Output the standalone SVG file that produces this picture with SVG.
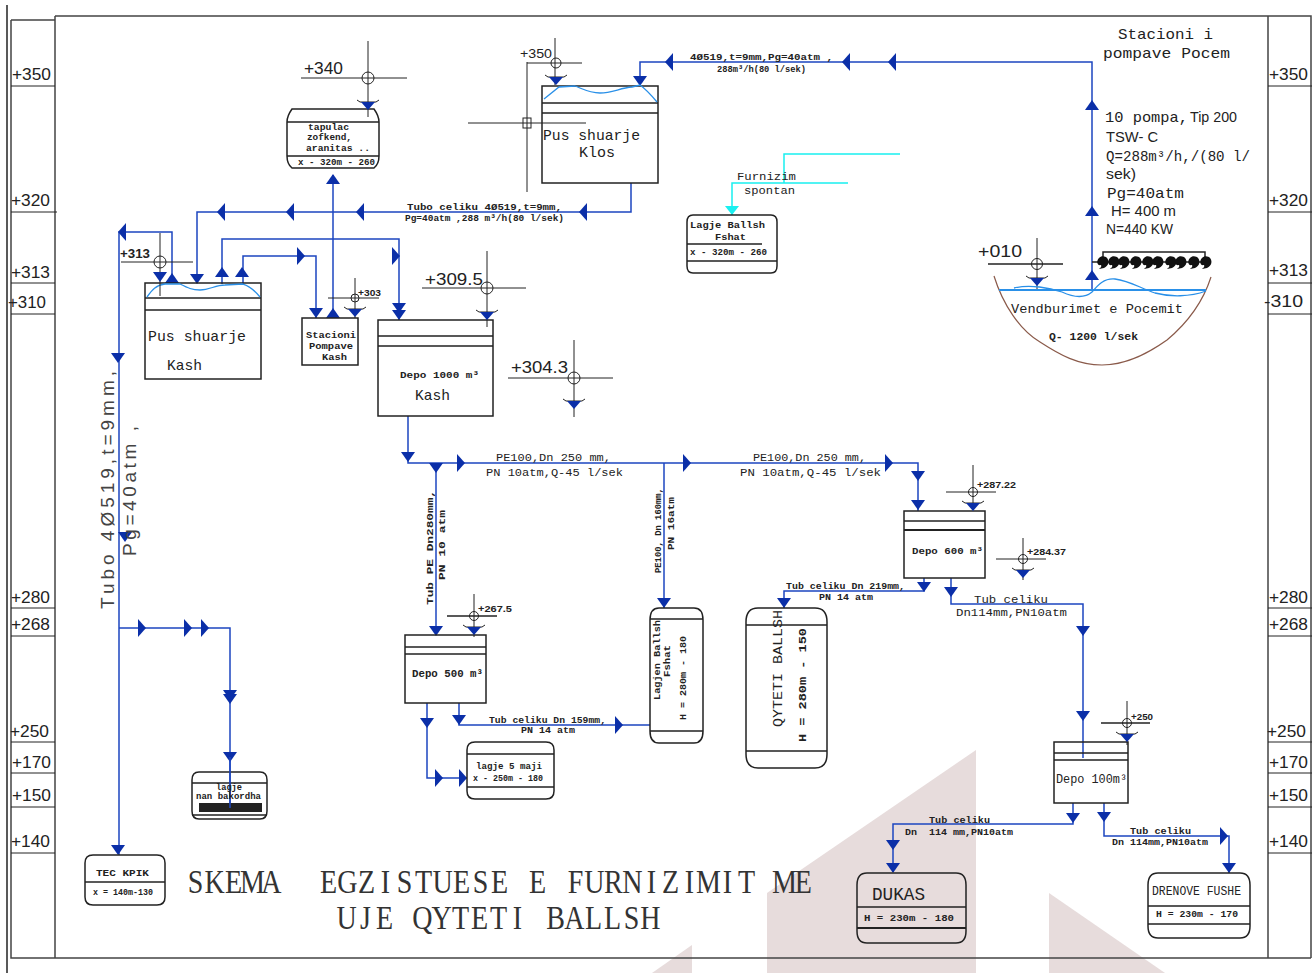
<svg xmlns="http://www.w3.org/2000/svg" width="1315" height="973" viewBox="0 0 1315 973">
<style>
text{fill:#222;white-space:pre}
.m{font-family:"Liberation Mono","DejaVu Sans Mono",monospace}
.t{font-family:"Liberation Serif","DejaVu Serif",serif;font-size:33px;text-anchor:middle;fill:#333}
.s{font-family:"Liberation Sans",Arial,sans-serif}
.b{font-weight:700}
.sc{font-family:"Liberation Sans",Arial,sans-serif;font-size:17px;fill:#333}
.box{fill:none;stroke:#222;stroke-width:1.5}
.ln{fill:none;stroke:#222;stroke-width:1.5}
.thin{fill:none;stroke:#222;stroke-width:1}
.frame{fill:none;stroke:#444;stroke-width:1.5}
.p{fill:none;stroke:#1d46c0;stroke-width:1.5}
.c{fill:none;stroke:#19f0f0;stroke-width:1.5}
.w{fill:none;stroke:#2a90e8;stroke-width:1.3}
.a{fill:#0b2fa8}
</style>
<defs>
<path id="ad" d="M-7,-5H7L0,5Z"/>
<path id="au" d="M-7,5H7L0,-5Z"/>
<path id="al" d="M4,-9V9L-4,0Z"/>
<path id="ar" d="M-4,-9V9L4,0Z"/>
<g id="lv"><path d="M-11,-5L-8,-3H8L11,-5" fill="none" stroke="#222" stroke-width="1"/><path d="M-7,-3H7L0,5Z" fill="#0b2fa8"/></g>
<path id="pm" d="M-4,-1C-7,2-6,7-2,6C-1,8-3,9-4,10L1,9C6,7 7,1 3,-2C0,-3-2,-3-4,-1Z" fill="#111"/>
</defs>

<g id="watermark" fill="#e7dcdc">
<path d="M976,750L767,893V973H976Z"/>
<path d="M1049,893L1165,973H1049Z"/>
<path d="M692,945L652,973H692Z"/>
</g>

<g id="frame">
<path class="ln" d="M7,5V973"/>
<path class="frame" d="M11,20V958H1311"/>
<path class="frame" d="M11,20H55M55,16H1311V958"/>
<path class="frame" d="M55,16V958M1268,16V958"/>
<path class="thin" d="M11,86H55M11,212H57M11,283H55M11,314H55M11,608H55M11,636H55M11,742H55M11,773H55M11,807H55M11,853H55"/>
<path class="thin" d="M1268,86H1312M1268,212H1312M1268,283H1312M1268,314H1312M1268,608H1312M1268,636H1312M1268,742H1312M1268,773H1312M1268,807H1312M1268,853H1312"/>
<g class="sc">
<text x="12" y="80" textLength="39" lengthAdjust="spacingAndGlyphs">+350</text>
<text x="11" y="206" textLength="39" lengthAdjust="spacingAndGlyphs">+320</text>
<text x="11" y="278" textLength="39" lengthAdjust="spacingAndGlyphs">+313</text>
<text x="8" y="308" textLength="38" lengthAdjust="spacingAndGlyphs">+310</text>
<text x="11" y="603" textLength="39" lengthAdjust="spacingAndGlyphs">+280</text>
<text x="11" y="630" textLength="39" lengthAdjust="spacingAndGlyphs">+268</text>
<text x="10" y="737" textLength="39" lengthAdjust="spacingAndGlyphs">+250</text>
<text x="12" y="768" textLength="39" lengthAdjust="spacingAndGlyphs">+170</text>
<text x="12" y="801" textLength="39" lengthAdjust="spacingAndGlyphs">+150</text>
<text x="11" y="847" textLength="39" lengthAdjust="spacingAndGlyphs">+140</text>
<text x="1269" y="80" textLength="39" lengthAdjust="spacingAndGlyphs">+350</text>
<text x="1269" y="206" textLength="39" lengthAdjust="spacingAndGlyphs">+320</text>
<text x="1269" y="276" textLength="39" lengthAdjust="spacingAndGlyphs">+313</text>
<text x="1264" y="307" textLength="39" lengthAdjust="spacingAndGlyphs">-310</text>
<text x="1269" y="603" textLength="39" lengthAdjust="spacingAndGlyphs">+280</text>
<text x="1269" y="630" textLength="39" lengthAdjust="spacingAndGlyphs">+268</text>
<text x="1267" y="737" textLength="39" lengthAdjust="spacingAndGlyphs">+250</text>
<text x="1269" y="768" textLength="39" lengthAdjust="spacingAndGlyphs">+170</text>
<text x="1269" y="801" textLength="39" lengthAdjust="spacingAndGlyphs">+150</text>
<text x="1269" y="847" textLength="39" lengthAdjust="spacingAndGlyphs">+140</text>
</g>
</g>

<g id="connectors">
<path class="p" d="M1092,290V62H640V85"/>
<path class="p" d="M631,183V212H197V283"/>
<path class="p" d="M333,318V175"/>
<path class="p" d="M119,855V232H172V283"/>
<path class="p" d="M119,628H230V808"/>
<path class="p" d="M222,284V239H399V320"/>
<path class="p" d="M243,284V256H316V318"/>
<path class="p" d="M408,416V463H918V511"/>
<path class="p" d="M436,463V635"/>
<path class="p" d="M664,463V608"/>
<path class="p" d="M427,703V778H467"/>
<path class="p" d="M459,703V725H650"/>
<path class="p" d="M924,578V591H784V608"/>
<path class="p" d="M951,578V604H1083V758"/>
<path class="p" d="M1073,803V824H893V872"/>
<path class="p" d="M1104,803V836H1229V873"/>
<path class="c" d="M900,154H784V183M848,183H732V215"/>
<g class="a">
<use href="#au" x="1092" y="105"/><use href="#au" x="1092" y="211"/><use href="#au" x="1092" y="275"/>
<use href="#al" x="669" y="62"/><use href="#al" x="846" y="62"/><use href="#al" x="892" y="62"/>
<use href="#ad" x="640" y="81"/>
<use href="#al" x="583" y="212"/><use href="#al" x="360" y="212"/><use href="#al" x="290" y="212"/><use href="#al" x="221" y="212"/>
<use href="#ad" x="197" y="279"/>
<use href="#au" x="333" y="179"/><use href="#au" x="333" y="313"/>
<use href="#al" x="122" y="232"/><use href="#au" x="172" y="278"/>
<use href="#ad" x="118" y="358"/><use href="#ad" x="125" y="537"/><use href="#ad" x="118" y="850"/>
<use href="#ar" x="142" y="628"/><use href="#ar" x="188" y="628"/><use href="#ar" x="205" y="628"/>
<use href="#ad" x="230" y="695"/><use href="#ad" x="230" y="699"/><use href="#ad" x="230" y="757"/>
<use href="#au" x="222" y="272"/><use href="#au" x="242" y="272"/>
<use href="#ar" x="396" y="256"/><use href="#ar" x="301" y="256"/>
<use href="#ad" x="399" y="308"/><use href="#ad" x="399" y="315"/><use href="#ad" x="316" y="313"/>
<use href="#ad" x="408" y="457"/><use href="#ad" x="436" y="468"/><use href="#ad" x="436" y="631"/>
<use href="#ar" x="461" y="463"/><use href="#ar" x="687" y="463"/><use href="#ar" x="889" y="463"/>
<use href="#ad" x="918" y="476"/><use href="#ad" x="918" y="505"/><use href="#ad" x="664" y="603"/>
<use href="#ad" x="427" y="723"/><use href="#ar" x="439" y="778"/><use href="#ar" x="463" y="778"/>
<use href="#ad" x="459" y="720"/><use href="#ar" x="619" y="725"/>
<use href="#ad" x="924" y="587"/><use href="#ad" x="784" y="603"/>
<use href="#ad" x="951" y="592"/><use href="#ad" x="1083" y="631"/><use href="#ad" x="1083" y="716"/>
<use href="#ad" x="1073" y="818"/><use href="#ad" x="893" y="845"/><use href="#ad" x="893" y="868"/>
<use href="#ad" x="1104" y="817"/><use href="#ad" x="1229" y="868"/><use href="#ar" x="1224" y="836"/>
</g>
<path d="M725,206H739L732,215Z" fill="#19f0f0"/>
</g>

<g id="pipe-labels" class="m b" font-size="9">
<text x="690" y="60" textLength="143" lengthAdjust="spacingAndGlyphs">4Ø519,t=9mm,Pg=40atm ,</text>
<text x="717" y="72" textLength="89" lengthAdjust="spacingAndGlyphs">288m³/h(80 l/sek)</text>
<text x="407" y="210" textLength="155" lengthAdjust="spacingAndGlyphs">Tubo celiku 4Ø519,t=9mm,</text>
<text x="405" y="221" textLength="159" lengthAdjust="spacingAndGlyphs">Pg=40atm ,288 m³/h(80 l/sek)</text>
<g font-size="11" font-weight="400">
<text x="496" y="461" textLength="115" lengthAdjust="spacingAndGlyphs">PE100,Dn 250 mm,</text>
<text x="486" y="476" textLength="137" lengthAdjust="spacingAndGlyphs">PN 10atm,Q-45 l/sek</text>
<text x="753" y="461" textLength="113" lengthAdjust="spacingAndGlyphs">PE100,Dn 250 mm,</text>
<text x="740" y="476" textLength="141" lengthAdjust="spacingAndGlyphs">PN 10atm,Q-45 l/sek</text>
</g>
<text transform="translate(433,605) rotate(-90)" textLength="115" lengthAdjust="spacingAndGlyphs">Tub PE Dn280mm,</text>
<text transform="translate(445,580) rotate(-90)" textLength="70" lengthAdjust="spacingAndGlyphs">PN 10 atm</text>
<text transform="translate(661,573) rotate(-90)" textLength="85" lengthAdjust="spacingAndGlyphs">PE100, Dn 160mm,</text>
<text transform="translate(674,550) rotate(-90)" textLength="53" lengthAdjust="spacingAndGlyphs">PN 16atm</text>
<text x="786" y="589" textLength="119" lengthAdjust="spacingAndGlyphs">Tub celiku Dn 219mm,</text>
<text x="819" y="600" textLength="54" lengthAdjust="spacingAndGlyphs">PN 14 atm</text>
<g font-size="11" font-weight="400">
<text x="974" y="603" textLength="74" lengthAdjust="spacingAndGlyphs">Tub celiku</text>
<text x="956" y="616" textLength="111" lengthAdjust="spacingAndGlyphs">Dn114mm,PN10atm</text>
</g>
<text x="489" y="723" textLength="117" lengthAdjust="spacingAndGlyphs">Tub celiku Dn 159mm,</text>
<text x="521" y="733" textLength="54" lengthAdjust="spacingAndGlyphs">PN 14 atm</text>
<text x="929" y="823" textLength="61" lengthAdjust="spacingAndGlyphs">Tub celiku</text>
<text x="905" y="835" textLength="108" lengthAdjust="spacingAndGlyphs">Dn  114 mm,PN10atm</text>
<text x="1130" y="834" textLength="61" lengthAdjust="spacingAndGlyphs">Tub celiku</text>
<text x="1112" y="845" textLength="96" lengthAdjust="spacingAndGlyphs">Dn 114mm,PN10atm</text>
<g font-size="11" font-weight="400">
<text x="737" y="180" textLength="59" lengthAdjust="spacingAndGlyphs">Furnizim</text>
<text x="744" y="194" textLength="51" lengthAdjust="spacingAndGlyphs">spontan</text>
</g>
</g>

<g id="main-tube-label" class="s">
<text transform="translate(114,609) rotate(-90)" font-size="19" textLength="238" lengthAdjust="spacing" style="fill:#444">Tubo 4Ø519,t=9mm,</text>
<text transform="translate(136,556) rotate(-90)" font-size="19" textLength="130" lengthAdjust="spacing" style="fill:#444">Pg=40atm ,</text>
</g>

<g id="tapulac">
<path class="box" d="M292,109H374Q379,116 379,122V156Q379,164 374,168H292Q287,164 287,156V122Q287,116 292,109Z"/>
<path class="ln" d="M287,122H379M287,156H379"/>
<g class="m b" font-size="8.500">
<text x="308" y="130" textLength="41" lengthAdjust="spacingAndGlyphs">tapulac</text>
<text x="307" y="140" textLength="45" lengthAdjust="spacingAndGlyphs">zofkend,</text>
<text x="306" y="151" textLength="64" lengthAdjust="spacingAndGlyphs">aranitas ..</text>
<text x="298" y="165" textLength="77" lengthAdjust="spacingAndGlyphs">x - 320m - 260</text>
</g>
</g>

<g id="lagje-ballsh-fshat">
<path class="box" d="M693,215H771Q777,215 777,222V266Q777,273 771,273H693Q687,273 687,266V222Q687,215 693,215Z"/>
<path class="ln" d="M687,244H762M687,261H777"/>
<g class="m b" font-size="8.500">
<text x="690" y="228" textLength="75" lengthAdjust="spacingAndGlyphs">Lagje Ballsh</text>
<text x="715" y="240" textLength="31" lengthAdjust="spacingAndGlyphs">Fshat</text>
<text x="690" y="255" textLength="77" lengthAdjust="spacingAndGlyphs">x - 320m - 260</text>
</g>
</g>

<g id="pus-klos">
<rect class="box" x="542" y="86" width="116" height="97"/>
<path class="ln" d="M542,103H658M542,113H658"/>
<path class="w" d="M544,99L559,87L575,86C585,90 590,93 600,93C612,93 620,88 632,87L640,85C647,90 652,96 657,102"/>
<g class="m" font-size="15">
<text x="543" y="140" textLength="97" lengthAdjust="spacingAndGlyphs">Pus shuarje</text>
<text x="579" y="157" textLength="36" lengthAdjust="spacingAndGlyphs">Klos</text>
</g>
</g>

<g id="pus-kash">
<rect class="box" x="145" y="283" width="116" height="96"/>
<path class="ln" d="M145,298H261M145,310H261"/>
<path class="w" d="M147,297C152,290 156,285 165,284H180C188,288 192,290 200,290C210,290 215,285 225,285L243,284C250,286 256,292 260,297"/>
<g class="m" font-size="15">
<text x="148" y="341" textLength="98" lengthAdjust="spacingAndGlyphs">Pus shuarje</text>
<text x="167" y="370" textLength="35" lengthAdjust="spacingAndGlyphs">Kash</text>
</g>
</g>

<g id="stacioni-kash">
<rect class="box" x="302" y="318" width="56" height="47"/>
<g class="m b" font-size="8.500">
<text x="306" y="338" textLength="50" lengthAdjust="spacingAndGlyphs">Stacioni</text>
<text x="309" y="349" textLength="44" lengthAdjust="spacingAndGlyphs">Pompave</text>
<text x="322" y="360" textLength="25" lengthAdjust="spacingAndGlyphs">Kash</text>
</g>
</g>

<g id="depo-1000">
<rect class="box" x="378" y="320" width="115" height="96"/>
<path class="ln" d="M378,336H493M378,346H493"/>
<text class="m b" x="400" y="378" font-size="9" textLength="79" lengthAdjust="spacingAndGlyphs">Depo 1000 m³</text>
<text class="m" x="415" y="400" font-size="15" textLength="35" lengthAdjust="spacingAndGlyphs">Kash</text>
</g>

<g id="depo-500">
<rect class="box" x="405" y="635" width="81" height="68"/>
<path class="ln" d="M405,647H486M405,654H486"/>
<text class="m" x="412" y="677" font-size="11" font-weight="700" textLength="71" lengthAdjust="spacingAndGlyphs">Depo 500 m³</text>
</g>

<g id="depo-600">
<rect class="box" x="904" y="511" width="81" height="67"/>
<path class="ln" d="M904,521H985"/><path class="ln" style="stroke-width:2.2" d="M904,530H985"/>
<text class="m b" x="912" y="554" font-size="9" textLength="71" lengthAdjust="spacingAndGlyphs">Depo 600 m³</text>
</g>

<g id="depo-100">
<rect class="box" x="1054" y="742" width="74" height="61"/>
<path class="ln" d="M1054,753H1128M1054,760H1128"/>
<text class="m" x="1056" y="783" font-size="13" textLength="71" lengthAdjust="spacingAndGlyphs">Depo 100m³</text>
</g>

<g id="lagje-fshat-v">
<path class="box" d="M659,608H694Q703,608 703,620V731Q703,743 694,743H659Q650,743 650,731V620Q650,608 659,608Z"/>
<path class="ln" d="M650,619H703M650,731H703"/>
<g class="m b" font-size="8.500">
<text transform="translate(660,700) rotate(-90)" textLength="80" lengthAdjust="spacingAndGlyphs">Lagjen Ballsh</text>
<text transform="translate(670,677) rotate(-90)" textLength="32" lengthAdjust="spacingAndGlyphs">Fshat</text>
<text transform="translate(686,720) rotate(-90)" textLength="84" lengthAdjust="spacingAndGlyphs">H = 280m - 180</text>
</g>
</g>

<g id="qyteti-ballsh">
<path class="box" d="M758,608H815Q827,608 827,622V754Q827,768 815,768H758Q746,768 746,754V622Q746,608 758,608Z"/>
<path class="ln" d="M746,625H827M746,751H827"/>
<text class="m" transform="translate(782,727) rotate(-90)" font-size="13" textLength="117" lengthAdjust="spacingAndGlyphs">QYTETI BALLSH</text>
<text class="m b" transform="translate(806,742) rotate(-90)" font-size="10" textLength="114" lengthAdjust="spacingAndGlyphs">H = 280m - 150</text>
</g>

<g id="tec-kpik">
<path class="box" d="M93,855H157Q165,855 165,863V897Q165,905 157,905H93Q85,905 85,897V863Q85,855 93,855Z"/>
<path class="ln" d="M85,882H165"/>
<g class="m b" font-size="8.500">
<text x="96" y="876" textLength="53" lengthAdjust="spacingAndGlyphs">TEC KPIK</text>
<text x="93" y="895" textLength="60" lengthAdjust="spacingAndGlyphs">x = 140m-130</text>
</g>
</g>

<g id="lagje-nan-bakordha">
<path class="box" d="M199,772H260Q267,772 267,780V811Q267,819 260,819H199Q192,819 192,811V780Q192,772 199,772Z"/>
<path class="ln" d="M192,783H267M192,815H267"/>
<rect x="199" y="803" width="63" height="9" fill="#222"/>
<path class="p" d="M230,757V808"/>
<g class="m b" font-size="8.500">
<text x="216" y="790" textLength="26" lengthAdjust="spacingAndGlyphs">lagje</text>
<text x="196" y="799" textLength="65" lengthAdjust="spacingAndGlyphs">nan bakordha</text>
</g>
</g>

<g id="lagje-5-maji">
<path class="box" d="M475,742H546Q554,742 554,750V791Q554,799 546,799H475Q467,799 467,791V750Q467,742 475,742Z"/>
<path class="ln" d="M467,754H554M467,787H554"/>
<g class="m b" font-size="8.500">
<text x="476" y="769" textLength="66" lengthAdjust="spacingAndGlyphs">lagje 5 maji</text>
<text x="473" y="781" textLength="70" lengthAdjust="spacingAndGlyphs">x - 250m - 180</text>
</g>
</g>

<g id="dukas">
<path class="box" d="M867,873H956Q966,873 966,885V931Q966,943 956,943H867Q857,943 857,931V885Q857,873 867,873Z"/>
<path class="ln" d="M857,907H966"/><path class="ln" style="stroke-width:2" d="M857,928H966"/>
<text class="m" x="872" y="900" font-size="18" textLength="53" lengthAdjust="spacingAndGlyphs">DUKAS</text>
<text class="m b" x="864" y="921" font-size="9" textLength="90" lengthAdjust="spacingAndGlyphs">H = 230m - 180</text>
</g>

<g id="drenove-fushe">
<path class="box" d="M1158,873H1240Q1250,873 1250,885V926Q1250,938 1240,938H1158Q1148,938 1148,926V885Q1148,873 1158,873Z"/>
<path class="ln" d="M1148,906H1250M1148,924H1250"/>
<text class="m" x="1152" y="895" font-size="12" textLength="89" lengthAdjust="spacingAndGlyphs">DRENOVE FUSHE</text>
<text class="m b" x="1156" y="917" font-size="9" textLength="82" lengthAdjust="spacingAndGlyphs">H = 230m - 170</text>
</g>

<g id="level-340"><path class="thin" d="M301,78H407M368,41V117"/><circle class="thin" cx="368" cy="78" r="6"/><use href="#lv" x="368" y="105"/>
<text class="s" x="304" y="74" font-size="16" textLength="39" lengthAdjust="spacingAndGlyphs">+340</text></g>
<g id="level-350"><path class="thin" d="M527,63H582M555,38V85"/><circle class="thin" cx="556" cy="63" r="5"/><use href="#lv" x="556" y="80"/>
<text class="s" x="520" y="58" font-size="13" textLength="32" lengthAdjust="spacingAndGlyphs">+350</text></g>
<g id="cross-klos"><path class="thin" d="M468,123H586M527,62V192"/><rect class="thin" x="523" y="118" width="8" height="10"/></g>
<g id="level-313"><path class="thin" d="M121,262H193M160,233V296"/><circle class="thin" cx="160" cy="262" r="6"/><use href="#ad" x="160" y="277" class="a"/>
<text class="s" x="120" y="258" font-size="12" font-weight="700" textLength="30" lengthAdjust="spacingAndGlyphs">+313</text></g>
<g id="level-303"><path class="thin" d="M328,298H379M355,278V318"/><circle class="thin" cx="355" cy="298" r="4"/><use href="#lv" x="355" y="312"/>
<text class="s" x="358" y="296" font-size="9" font-weight="700" textLength="23" lengthAdjust="spacingAndGlyphs">+303</text></g>
<g id="level-3095"><path class="thin" d="M422,288H526M487,251V327"/><circle class="thin" cx="487" cy="288" r="6"/><use href="#lv" x="487" y="315"/>
<text class="s" x="425" y="285" font-size="16" textLength="58" lengthAdjust="spacingAndGlyphs">+309.5</text></g>
<g id="level-3043"><path class="thin" d="M508,378H613M574,340V417"/><circle class="thin" cx="574" cy="378" r="6"/><use href="#lv" x="574" y="404"/>
<text class="s" x="511" y="373" font-size="16" textLength="57" lengthAdjust="spacingAndGlyphs">+304.3</text></g>
<g id="level-010"><path class="ln" d="M988,264H1063"/><path class="thin" d="M1037,238V290"/><circle class="thin" cx="1037" cy="264" r="5.500"/><use href="#lv" x="1037" y="281"/>
<text class="s" x="978" y="257" font-size="17" textLength="44" lengthAdjust="spacingAndGlyphs">+010</text></g>
<g id="level-2675"><path class="ln" d="M447,616H497"/><path class="thin" d="M474,594V637"/><circle class="thin" cx="474" cy="616" r="4.500"/><use href="#lv" x="474" y="630"/>
<text class="s" x="478" y="612" font-size="9" font-weight="700" textLength="34" lengthAdjust="spacingAndGlyphs">+267.5</text></g>
<g id="level-28722"><path class="thin" d="M946,492H996M973,465V510"/><circle class="thin" cx="973" cy="492" r="4.500"/><use href="#lv" x="973" y="506"/>
<text class="s" x="977" y="488" font-size="9" font-weight="700" textLength="39" lengthAdjust="spacingAndGlyphs">+287.22</text></g>
<g id="level-28437"><path class="thin" d="M996,559H1046M1023,538V580"/><circle class="thin" cx="1023" cy="559" r="4.500"/><use href="#lv" x="1023" y="573"/>
<text class="s" x="1027" y="555" font-size="9" font-weight="700" textLength="39" lengthAdjust="spacingAndGlyphs">+284.37</text></g>
<g id="level-250"><path class="ln" d="M1101,723H1150"/><path class="thin" d="M1127,701V745"/><circle class="thin" cx="1127" cy="723" r="4.500"/><use href="#lv" x="1127" y="737"/>
<text class="s" x="1131" y="720" font-size="9" font-weight="700" textLength="22" lengthAdjust="spacingAndGlyphs">+250</text></g>

<g id="pumps">
<path class="ln" d="M1092,262H1210M1103,262V252H1205V262"/>
<use href="#pm" x="1103" y="259"/><use href="#pm" x="1114" y="259"/><use href="#pm" x="1124" y="259"/><use href="#pm" x="1136" y="259"/><use href="#pm" x="1148" y="259"/><use href="#pm" x="1158" y="259"/><use href="#pm" x="1171" y="259"/><use href="#pm" x="1181" y="259"/><use href="#pm" x="1194" y="259"/><use href="#pm" x="1206" y="259"/>
</g>

<g id="vendburimet">
<path fill="none" stroke="#8a5a4a" stroke-width="1.2" d="M994,276C1003,305 1020,330 1040,342C1060,355 1078,365 1102,365C1128,365 1150,352 1167,340C1185,325 1202,305 1211,277"/>
<path fill="none" stroke="#2a90e8" stroke-width="2" d="M999,290H1206"/>
<path class="w" d="M1014,288C1030,284 1050,288 1062,292C1075,298 1085,298 1092,292C1098,285 1104,278 1115,279C1130,281 1140,288 1155,293C1170,297 1190,297 1206,291"/>
<text class="m" x="1011" y="313" font-size="13" textLength="172" lengthAdjust="spacingAndGlyphs">Vendburimet e Pocemit</text>
<text class="m" x="1049" y="340" font-size="10" font-weight="700" textLength="89" lengthAdjust="spacingAndGlyphs">Q- 1200 l/sek</text>
</g>

<g id="pump-station-text">
<text class="m" x="1118" y="39" font-size="15" textLength="95" lengthAdjust="spacingAndGlyphs">Stacioni i</text>
<text class="m" x="1103" y="58" font-size="15" textLength="127" lengthAdjust="spacingAndGlyphs">pompave Pocem</text>
<text class="m" x="1105" y="122" font-size="15" textLength="83" lengthAdjust="spacingAndGlyphs">10 pompa,</text>
<text class="s" x="1190" y="122" font-size="14" textLength="47" lengthAdjust="spacingAndGlyphs">Tip 200</text>
<text class="s" x="1106" y="142" font-size="14" textLength="52" lengthAdjust="spacingAndGlyphs">TSW- C</text>
<text class="m" x="1106" y="161" font-size="15" textLength="144" lengthAdjust="spacingAndGlyphs">Q=288m³/h,/(80 l/</text>
<text class="s" x="1106" y="179" font-size="15" textLength="30" lengthAdjust="spacingAndGlyphs">sek)</text>
<text class="m" x="1107" y="198" font-size="15" textLength="77" lengthAdjust="spacingAndGlyphs">Pg=40atm</text>
<text class="s" x="1111" y="216" font-size="14" textLength="65" lengthAdjust="spacingAndGlyphs">H= 400 m</text>
<text class="s" x="1106" y="234" font-size="14" textLength="67" lengthAdjust="spacingAndGlyphs">N=440 KW</text>
</g>

<g id="title">
<text class="t" transform="translate(195.5,893) scale(.85,1)" x="0 22.4 44.7 67.1 89.4 111.8 134.1 156.5 178.8 201.2 223.5 245.9 268.2 290.6 312.9 335.3 357.6 380 402.3 424.7 447 469.4 491.7 514.1 536.4 558.8 581.1 603.5 625.8 648.2 670.5 692.9 715.2" y="0">SKEMA  EGZISTUESE E FURNIZIMIT ME</text>
<text class="t" transform="translate(346.5,929) scale(.85,1)" x="0 22.4 44.7 67.1 89.4 111.8 134.1 156.5 178.8 201.2 223.5 245.9 268.2 290.6 312.9 335.3 357.6" y="0">UJE QYTETI BALLSH</text>
</g>
</svg>
